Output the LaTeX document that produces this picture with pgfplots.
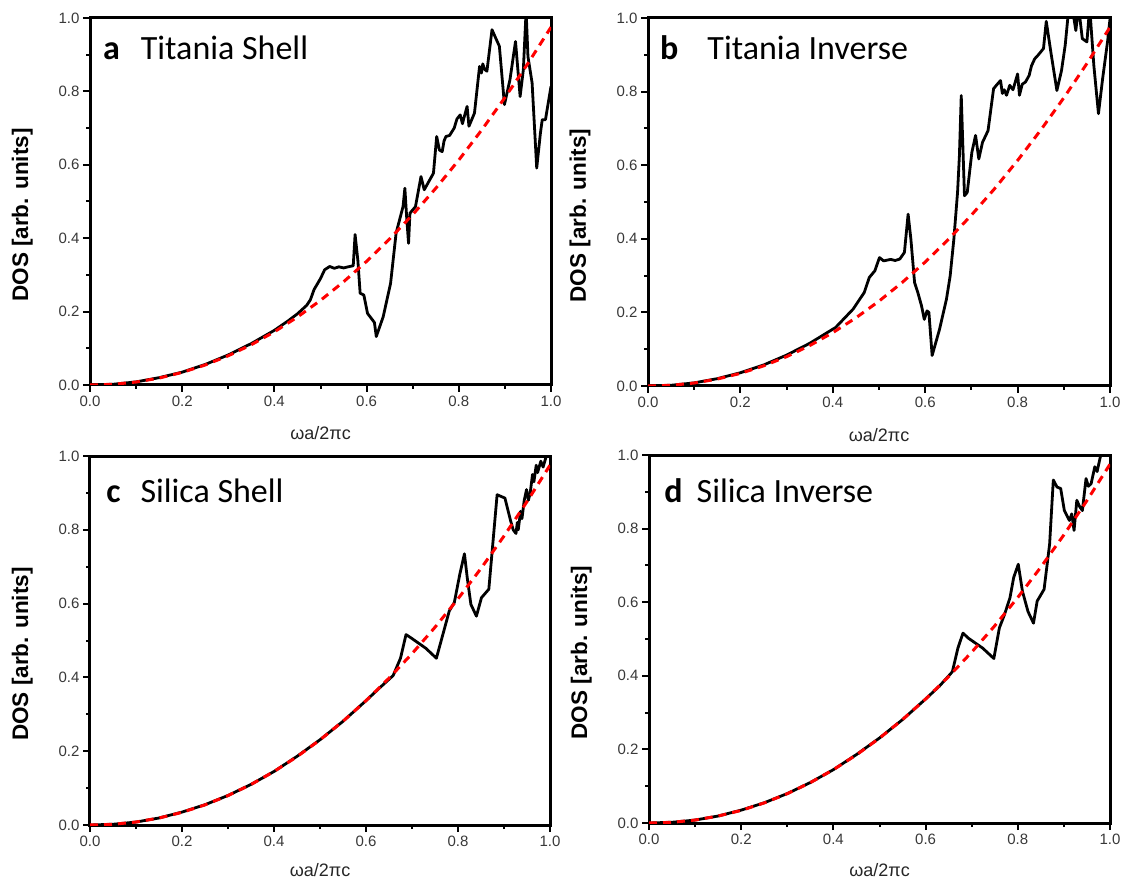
\documentclass[border=0pt]{standalone}
\usepackage{pgfplots}
\pgfplotsset{compat=1.18}
\usepackage{fontspec}
\setmainfont{Liberation Sans}
\newfontfamily\calib{Carlito}

\tikzset{titlef/.style={font=\calib\fontsize{34}{40}\selectfont, anchor=base west, inner sep=0pt}}

\pgfplotsset{
 dospanel/.style={
  scale only axis, anchor=south west,
  xmin=0,xmax=1,ymin=0,ymax=1,
  xtick={0,0.2,0.4,0.6,0.8,1}, ytick={0,0.2,0.4,0.6,0.8,1},
  minor x tick num=1, minor y tick num=1,
  tick align=outside, xtick pos=left, ytick pos=left,
  major tick length=7pt, minor tick length=4pt,
  every tick/.style={black, line width=2pt},
  axis line style={line width=3pt},
  tick label style={font=\fontsize{15}{17}\selectfont, text=black!78},
  xticklabel style={/pgf/number format/.cd, fixed, fixed zerofill, precision=1, assume math mode=true},
  yticklabel style={/pgf/number format/.cd, fixed, fixed zerofill, precision=1, assume math mode=true},
  xlabel={ωa/2πc}, ylabel={DOS [arb. units]},
  xlabel style={font=\fontsize{18}{21}\selectfont, text=black!85, at={(axis description cs:0.5,-0.132)}, anchor=center},
  ylabel style={font=\bfseries\fontsize{22.5}{26}\selectfont, at={(axis description cs:-0.147,0.463)}, anchor=center},
  clip=true,
 },
 blk/.style={black, line width=2.8pt, line join=round},
 rd/.style={red, line width=3pt, dash pattern=on 8pt off 6pt},
}

\pgfplotstableread{
x y
0 0
0.05 0.0019
0.1 0.0081
0.15 0.0189
0.2 0.0343
0.25 0.0546
0.3 0.0797
0.35 0.1098
0.4 0.1450
0.45 0.1852
0.5 0.2306
0.55 0.2812
0.6 0.3369
0.65 0.3980
0.7 0.4643
0.75 0.5359
0.8 0.6130
0.85 0.6954
0.9 0.7831
0.95 0.8763
1.0 0.975
}\redfit

\pgfplotstableread{
x y
0 0
0.05 0.002
0.1 0.0085
0.15 0.020
0.2 0.035
0.25 0.056
0.3 0.082
0.35 0.113
0.4 0.149
0.43 0.175
0.45 0.194
0.47 0.217
0.478 0.232
0.486 0.260
0.50 0.290
0.509 0.314
0.52 0.323
0.53 0.318
0.54 0.322
0.55 0.319
0.56 0.322
0.571 0.325
0.575 0.410
0.581 0.340
0.586 0.250
0.594 0.245
0.602 0.195
0.613 0.177
0.617 0.170
0.621 0.132
0.636 0.186
0.652 0.277
0.664 0.414
0.679 0.486
0.683 0.536
0.687 0.455
0.691 0.386
0.694 0.468
0.706 0.486
0.718 0.568
0.725 0.532
0.745 0.577
0.752 0.677
0.758 0.640
0.764 0.636
0.768 0.665
0.772 0.677
0.780 0.680
0.790 0.700
0.796 0.725
0.803 0.736
0.808 0.712
0.811 0.727
0.818 0.759
0.822 0.705
0.834 0.741
0.845 0.868
0.849 0.850
0.852 0.875
0.856 0.860
0.861 0.855
0.872 0.968
0.888 0.923
0.899 0.764
0.911 0.832
0.923 0.936
0.933 0.786
0.940 0.859
0.946 1.02
0.950 0.895
0.959 0.823
0.969 0.591
0.977 0.686
0.981 0.723
0.988 0.723
1.0 0.814
}\dataA

\pgfplotstableread{
x y
0 0
0.05 0.002
0.1 0.0085
0.15 0.020
0.2 0.036
0.25 0.057
0.3 0.084
0.35 0.116
0.406 0.159
0.444 0.209
0.468 0.254
0.479 0.295
0.491 0.313
0.501 0.349
0.510 0.340
0.525 0.344
0.535 0.341
0.545 0.345
0.555 0.363
0.563 0.467
0.569 0.399
0.577 0.281
0.584 0.254
0.592 0.218
0.598 0.181
0.604 0.204
0.608 0.200
0.615 0.083
0.631 0.154
0.646 0.236
0.654 0.299
0.662 0.399
0.670 0.526
0.674 0.625
0.678 0.789
0.681 0.671
0.685 0.517
0.691 0.526
0.701 0.635
0.709 0.681
0.716 0.617
0.724 0.662
0.736 0.694
0.748 0.808
0.756 0.820
0.763 0.830
0.767 0.795
0.771 0.805
0.776 0.790
0.783 0.817
0.790 0.805
0.800 0.848
0.804 0.790
0.810 0.820
0.817 0.826
0.825 0.844
0.830 0.870
0.837 0.889
0.845 0.900
0.856 0.917
0.862 0.991
0.872 0.907
0.885 0.803
0.895 0.857
0.903 0.926
0.911 1.03
0.918 1.03
0.926 0.966
0.932 1.03
0.940 0.944
0.950 0.935
0.956 1.03
0.965 0.871
0.975 0.740
0.984 0.835
0.995 0.939
1.0 0.998
}\dataB

\pgfplotstableread{
x y
0 0
0.05 0.002
0.1 0.008
0.15 0.019
0.2 0.035
0.25 0.055
0.3 0.080
0.35 0.110
0.4 0.145
0.45 0.186
0.5 0.231
0.55 0.281
0.6 0.337
0.63 0.372
0.659 0.405
0.675 0.452
0.687 0.516
0.698 0.507
0.730 0.479
0.753 0.452
0.769 0.525
0.781 0.580
0.792 0.603
0.804 0.680
0.814 0.735
0.820 0.671
0.828 0.598
0.840 0.566
0.851 0.616
0.867 0.639
0.877 0.781
0.885 0.895
0.902 0.886
0.914 0.826
0.920 0.800
0.926 0.790
0.929 0.820
0.931 0.800
0.936 0.850
0.939 0.830
0.944 0.880
0.949 0.909
0.953 0.880
0.957 0.900
0.962 0.950
0.965 0.930
0.970 0.975
0.973 0.955
0.980 0.986
0.985 0.970
0.992 1.0
1.0 1.0
}\dataC

\pgfplotstableread{
x y
0 0
0.05 0.002
0.1 0.008
0.15 0.019
0.2 0.035
0.25 0.055
0.3 0.080
0.35 0.110
0.4 0.145
0.45 0.186
0.5 0.231
0.55 0.281
0.6 0.337
0.63 0.372
0.658 0.411
0.670 0.475
0.681 0.516
0.693 0.502
0.724 0.475
0.748 0.447
0.760 0.530
0.771 0.566
0.783 0.612
0.791 0.667
0.801 0.703
0.810 0.630
0.822 0.575
0.834 0.543
0.842 0.603
0.857 0.635
0.869 0.758
0.877 0.932
0.885 0.913
0.893 0.909
0.901 0.849
0.912 0.822
0.917 0.840
0.922 0.795
0.928 0.877
0.934 0.860
0.940 0.849
0.948 0.936
0.953 0.915
0.959 0.922
0.967 0.968
0.972 0.955
0.979 0.995
0.991 1.02
1.0 1.02
}\dataD

\begin{document}
\begin{tikzpicture}
\useasboundingbox (0,0) rectangle (1123pt,884pt);

\begin{axis}[dospanel, at={(90pt,499pt)}, width=461pt, height=367pt]
\addplot[blk] table {\dataA};
\addplot[rd] table {\redfit};
\node[titlef] at (rel axis cs:0.028,0.886) {\textbf{a}\hspace{21pt}Titania Shell};
\end{axis}

\begin{axis}[dospanel, at={(648pt,498pt)}, width=462pt, height=368pt]
\addplot[blk] table {\dataB};
\addplot[rd] table {\redfit};
\node[titlef] at (rel axis cs:0.026,0.886) {\textbf{b}\hspace{29pt}Titania Inverse};
\end{axis}

\begin{axis}[dospanel, at={(90pt,59pt)}, width=460pt, height=369pt,
  xlabel style={at={(axis description cs:0.5,-0.122)}}]
\addplot[blk] table {\dataC};
\addplot[rd] table {\redfit};
\node[titlef] at (rel axis cs:0.035,0.873) {\textbf{c}\hspace{20pt}Silica Shell};
\end{axis}

\begin{axis}[dospanel, at={(649pt,61pt)}, width=461pt, height=368pt,
  xlabel style={at={(axis description cs:0.5,-0.127)}}]
\addplot[blk] table {\dataD};
\addplot[rd] table {\redfit};
\node[titlef] at (rel axis cs:0.033,0.870) {\textbf{d}\hspace{14pt}Silica Inverse};
\end{axis}
\end{tikzpicture}
\end{document}
